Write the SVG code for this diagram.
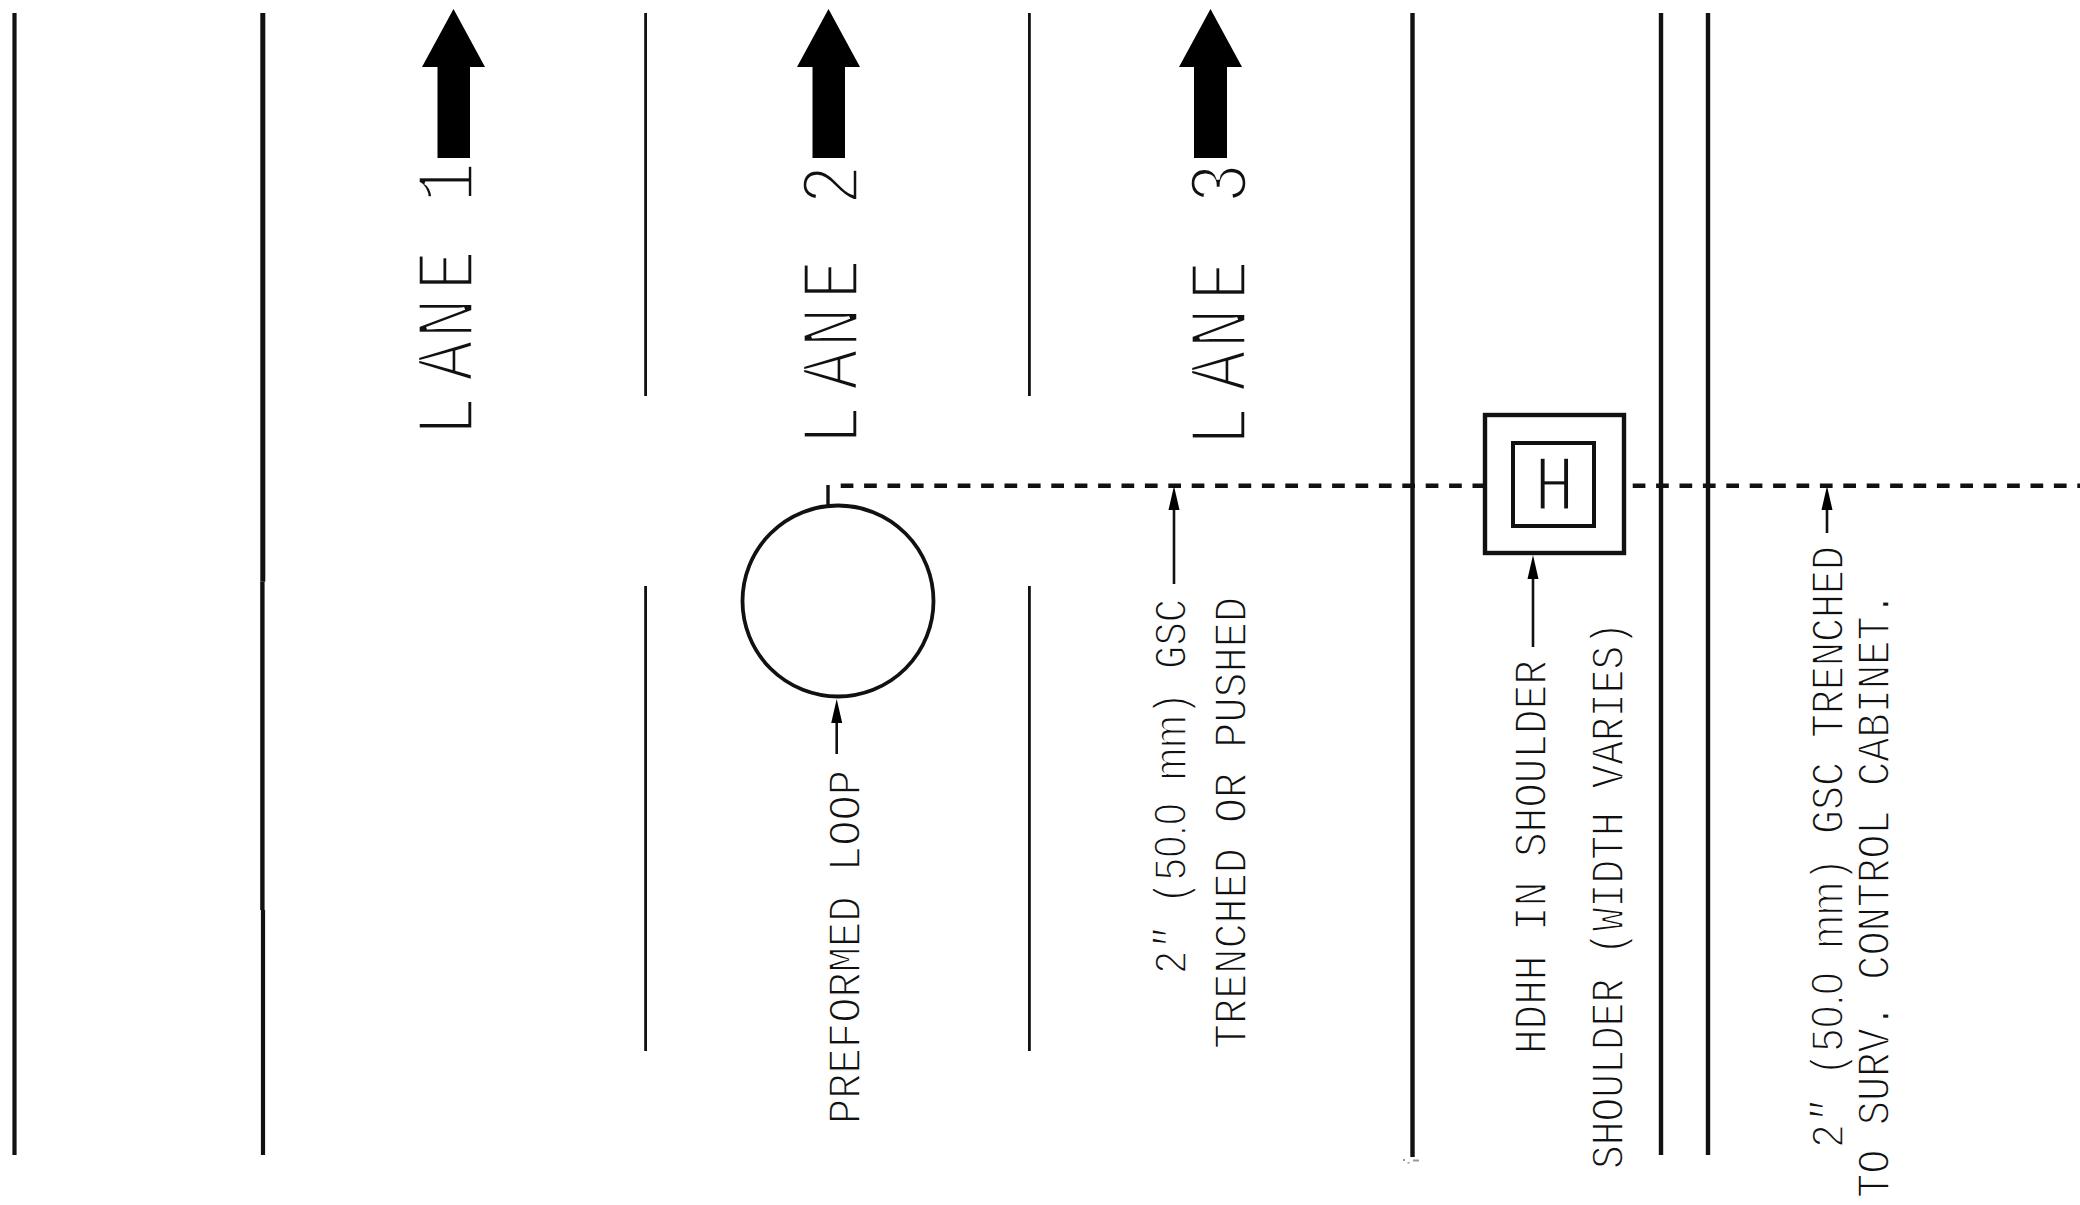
<svg xmlns="http://www.w3.org/2000/svg" width="2080" height="1205" viewBox="0 0 2080 1205">
<style>
.t{font-family:"Liberation Mono","DejaVu Sans Mono",monospace;fill:#111;stroke:#fff;paint-order:normal}
.s{font-size:46px;stroke-width:1.5px}
.b{font-size:84px;stroke-width:3.4px}
.sans{font-family:"Liberation Sans",Arial,sans-serif}
.road{stroke:#111;fill:none}
.dash{stroke:#111;stroke-width:4.4;fill:none;stroke-dasharray:12.7 10.7}
.lead{stroke:#111;stroke-width:2.6;fill:none;marker-end:url(#ah)}
.sym{stroke:#111;fill:#fff}
</style>
<defs>
<marker id="ah" markerUnits="userSpaceOnUse" markerWidth="26" markerHeight="14" refX="4" refY="6" orient="auto"><path d="M0,0.5L24,6L0,11.5Z" fill="#000"/></marker>
</defs>
<rect width="2080" height="1205" fill="#fff"/>
<g id="road-lines">
<path class="road" stroke-width="4.2" d="M14.5,13V1155"/>
<path class="road" stroke-width="5" d="M262.8,13V581.7"/>
<path class="road" stroke-width="4.4" d="M262.4,581.7V910"/>
<path class="road" stroke-width="4.2" d="M263,910V1155"/>
<path class="road" stroke-width="2.8" d="M645.6,13V396M645.6,586V1051"/>
<path class="road" stroke-width="2.8" d="M1029.4,13V396M1029.4,586V1051"/>
<path class="road" stroke-width="4.4" d="M1412.5,13V1157"/>
<path class="road" stroke-width="4.4" d="M1661,13V1155"/>
<path class="road" stroke-width="4.4" d="M1708,13V1155"/>
<path d="M1403,1159h2v2h-2zM1407.500,1162h2v1.500h-2zM1413,1159.500h6v2h-6z" fill="#999"/>
</g>
<g id="lane-1">
<text class="t b" transform="translate(473,428) rotate(-90) scale(.8,1)" x="-11 59 112 172 232 282">LANE 1</text>
<polygon points="453.500,9 485,67 470,67 470,158 437.500,158 437.500,67 422,67" fill="#000"/></g>
<g id="lane-2">
<text class="t b" transform="translate(857.500,437) rotate(-90) scale(.8,1)" x="-11 59 112 172 232 290">LANE 2</text>
<polygon points="828.500,9 860,67 845,67 845,158 812.500,158 812.500,67 797,67" fill="#000"/></g>
<g id="lane-3">
<text class="t b" transform="translate(1246,438) rotate(-90) scale(.8,1)" x="-11 59 112 172 232 293">LANE 3</text>
<polygon points="1210.500,9 1242,67 1227,67 1227,158 1194,158 1194,67 1179,67" fill="#000"/></g>
<g id="connectors">
<path class="dash" d="M840.700,485.700H1484"/>
<path class="dash" d="M1632.700,485.700H2080"/>
<path class="road" stroke-width="3.4" d="M828,485V505"/>
<path class="lead" d="M836.700,754V719"/>
<path class="lead" d="M1174,584V506"/>
<path class="lead" d="M1533,647V575"/>
<path class="lead" d="M1827,533V506"/>
</g>
<g id="loop"><circle class="sym" cx="838" cy="601" r="95.500" stroke-width="3.800"/></g>
<g id="hdhh">
<rect class="sym" x="1485" y="415" width="139" height="138" stroke-width="4.400"/>
<rect class="sym" x="1513" y="443" width="81" height="83" stroke-width="4"/>
<text class="t" style="font-size:80px;stroke-width:2.800px" transform="translate(1554.500,510) scale(.84,1)" text-anchor="middle">H</text>
</g>
<g id="labels">
<text class="t s" transform="translate(859.500,1124) rotate(-90)" textLength="354" lengthAdjust="spacingAndGlyphs">PREFORMED LOOP</text>
<text class="t s" transform="translate(1185.500,974) rotate(-90)" textLength="375" lengthAdjust="spacingAndGlyphs">2<tspan font-style="italic">"</tspan> (5<tspan class="sans">0.0</tspan> <tspan class="sans">mm</tspan>) GSC</text>
<text class="t s" transform="translate(1245.500,1049) rotate(-90)" textLength="452" lengthAdjust="spacingAndGlyphs">TRENCHED OR PUSHED</text>
<text class="t s" transform="translate(1545.500,1054) rotate(-90)" textLength="394" lengthAdjust="spacingAndGlyphs">HDHH IN SHOULDER</text>
<text class="t s" transform="translate(1622.500,1169) rotate(-90)" textLength="547" lengthAdjust="spacingAndGlyphs">SHOULDER (WIDTH VARIES)</text>
<text class="t s" transform="translate(1842.500,1148) rotate(-90)" textLength="602" lengthAdjust="spacingAndGlyphs">2<tspan font-style="italic">"</tspan> (5<tspan class="sans">0.0</tspan> <tspan class="sans">mm</tspan>) GSC TRENCHED</text>
<text class="t s" transform="translate(1888.500,1198) rotate(-90)" textLength="606" lengthAdjust="spacingAndGlyphs">TO SURV. CONTROL CABINET.</text>
</g>
</svg>
